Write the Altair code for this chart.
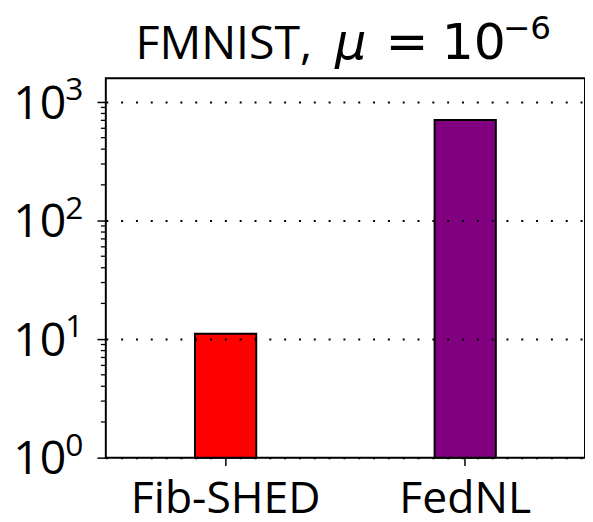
import altair as alt
import pandas as pd

methods = ["Fib-SHED", "FedNL"]
values = [11.1, 705.0]
bar_colors = ["#ff0000", "#800080"]

major_ticks = [1, 10, 100, 1000]
tick_base = ["10", "10", "10", "10"]
tick_exp = ["0", "1", "2", "3"]
minor_ticks = [2, 3, 4, 5, 6, 7, 8, 9,
               20, 30, 40, 50, 60, 70, 80, 90,
               200, 300, 400, 500, 600, 700, 800, 900]
y_domain = [1, 1585]

bars_df = pd.DataFrame({"method": methods, "value": values})
ticks_df = pd.DataFrame({"value": major_ticks, "base": tick_base, "exp": tick_exp})
minor_df = pd.DataFrame({"value": minor_ticks})
one_df = pd.DataFrame({"k": [0]})

TEXT_FONT = "Open Sans"
MATH_FONT = "DejaVu Sans"

yscale = alt.Scale(type="log", domain=y_domain, nice=False)
yaxis = alt.Axis(title=None, orient="left", values=major_ticks, labels=False,
                 tickSize=9, tickColor="black", tickWidth=1.5, grid=True,
                 gridColor="black", gridWidth=2, gridDash=[2, 13],
                 domain=False, zindex=1)

def yenc():
    return alt.Y("value:Q", scale=yscale, axis=yaxis)

bars = alt.Chart(bars_df).mark_bar(width=62, stroke="black", strokeWidth=2).encode(
    x=alt.X("method:N", sort=methods,
            scale=alt.Scale(paddingInner=0, paddingOuter=0),
            axis=alt.Axis(title=None, labelAngle=0, labelFont=TEXT_FONT, labelFontSize=45,
                          labelColor="black", labelLimit=400, tickColor="black",
                          tickWidth=1.5, tickSize=8, domain=False, labelPadding=12)),
    y=yenc(),
    y2=alt.datum(1),
    color=alt.Color("method:N", scale=alt.Scale(domain=methods, range=bar_colors), legend=None),
)

minor_marks = alt.Chart(minor_df).mark_rule(color="black", strokeWidth=1.3).encode(
    y=yenc(),
    x=alt.value(-5),
    x2=alt.value(0),
)

base_labels = alt.Chart(ticks_df).mark_text(
    font=TEXT_FONT, fontSize=47, align="right", baseline="alphabetic", dy=17, color="black"
).encode(
    x=alt.value(-40),
    y=yenc(),
    text="base:N",
)

exp_labels = alt.Chart(ticks_df).mark_text(
    font=TEXT_FONT, fontSize=32, align="left", baseline="alphabetic", dy=-2, color="black"
).encode(
    x=alt.value(-41),
    y=yenc(),
    text="exp:N",
)

def title_piece(txt, xpos, ypos, font, size, style="normal"):
    return alt.Chart(one_df).mark_text(
        text=txt, font=font, fontSize=size, fontStyle=style, align="left",
        baseline="alphabetic", color="black"
    ).encode(x=alt.value(xpos), y=alt.value(ypos))

t1 = title_piece("FMNIST,", 30, -20, TEXT_FONT, 47)
t2 = title_piece("\u03bc", 232, -20, MATH_FONT, 50, "italic")
t3 = title_piece("=", 283, -20, MATH_FONT, 52)
t4 = title_piece("10", 340, -20, MATH_FONT, 51)
t5 = title_piece("\u22126", 402, -40, MATH_FONT, 33)

chart = alt.layer(bars, minor_marks, base_labels, exp_labels, t1, t2, t3, t4, t5).properties(
    width=485, height=384,
    autosize=alt.AutoSizeParams(type="none"),
    padding={"left": 99, "top": 68, "right": 0, "bottom": 62},
).configure_view(stroke="black", strokeWidth=2)

chart.save("out.html", embed_options={"renderer": "svg", "actions": False})
